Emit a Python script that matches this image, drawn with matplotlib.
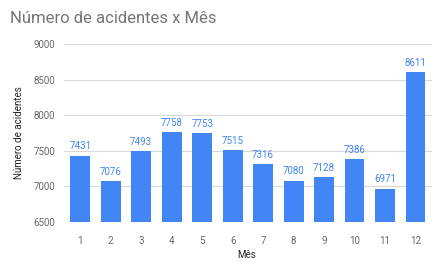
import matplotlib.pyplot as plt

meses = [1, 2, 3, 4, 5, 6, 7, 8, 9, 10, 11, 12]
acidentes = [7431, 7076, 7493, 7758, 7753, 7515, 7316, 7080, 7128, 7386, 6971, 8611]

plt.rcParams['font.family'] = ['Roboto', 'DejaVu Sans']

fig = plt.figure(figsize=(4.38, 2.64), dpi=100)
ax = fig.add_axes([0.145, 0.159, 0.842, 0.674])

bars = ax.bar(meses, acidentes, width=0.65, color='#4285F4', zorder=3)
for x, v in zip(meses, acidentes):
    ax.text(x, v + 60, str(v), ha='center', va='bottom', fontsize=7, color='#4285F4')

ax.set_ylim(6500, 9000)
ax.set_xlim(0.45, 12.55)
ax.set_yticks([6500, 7000, 7500, 8000, 8500, 9000])
ax.set_xticks(meses)
ax.grid(axis='y', color='#d9d9d9', linewidth=0.8, zorder=0)
for s in ax.spines.values():
    s.set_visible(False)
ax.tick_params(axis='y', length=0, labelsize=7, colors='#666666', pad=6)
ax.tick_params(axis='x', length=0, labelsize=7, colors='#666666', pad=10)

ax.set_ylabel('Número de acidentes', fontsize=7, color='#222222', labelpad=7)
fig.text(0.562, 0.035, 'Mês', fontsize=7, color='#222222', ha='center', va='center')
fig.text(0.023, 0.93, 'Número de acidentes x Mês', fontsize=12, color='#757575', ha='left', va='center')

fig.savefig('out.png', dpi=100)
